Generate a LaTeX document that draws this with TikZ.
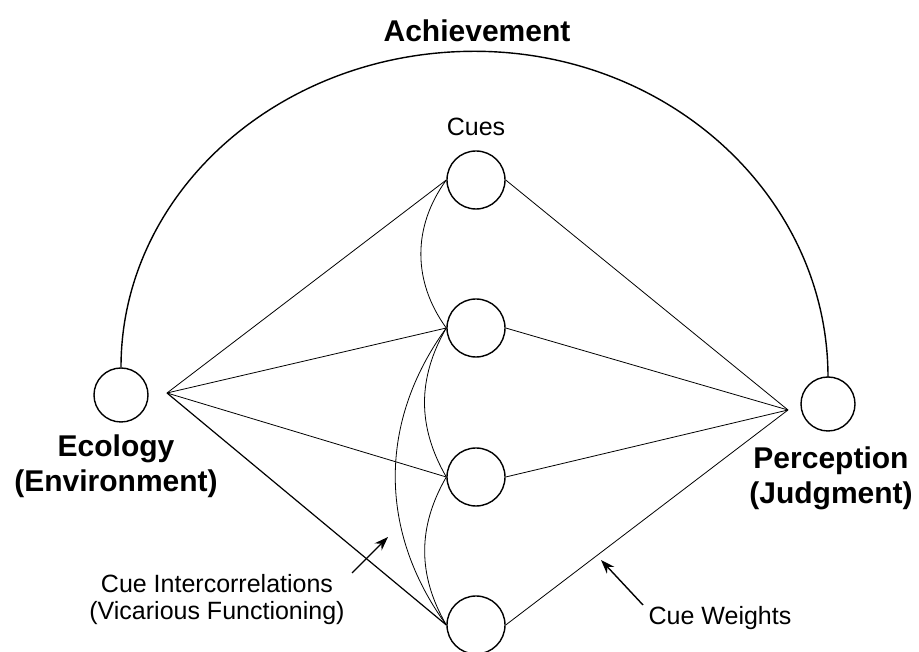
\documentclass[tikz,border=0pt]{standalone}
\usepackage{fontspec}
\setmainfont{Liberation Sans}
\usetikzlibrary{arrows.meta, positioning}

\begin{document}
\begin{tikzpicture}[x=1pt, y=1pt,
    ball/.style={circle, draw, line width=1.4pt, minimum size=#1, inner sep=0pt},
    ball/.default=58pt,
    tie/.style={line width=0.8pt},
    corr/.style={line width=0.8pt},
    bigtext/.style={font=\fontsize{30}{35}\selectfont\bfseries, align=center, inner sep=0pt},
    smalltext/.style={font=\fontsize{25}{27}\selectfont, align=center, inner sep=0pt},
    pointer/.style={-{Stealth[length=14pt, width=10pt]}, line width=1.4pt}]
    \useasboundingbox (0,0) rectangle (919,652);

    \node[ball=54pt] (eco) at (121,257) {};
    \node[ball=54pt] (perc) at (828,248) {};
    \foreach \i/\y in {1/472, 2/324, 3/175, 4/27}
        \node[ball] (cue\i) at (476,\y) {};

    \coordinate (ecotip) at (167,259);
    \coordinate (perctip) at (788,242);

    \draw[line width=1.4pt] (eco.north)
        arc[start angle=180, end angle=90, x radius=353.5, y radius=316]
        arc[start angle=90, end angle=0, x radius=353.5, y radius=326];

    \foreach \i in {1,2,3}
        \draw[tie] (ecotip) -- (cue\i.west) (cue\i.east) -- (perctip);
    \draw[tie, line width=1.2pt] (ecotip) -- (cue4.west);
    \draw[tie] (cue4.east) -- (perctip);

    \draw[corr] (cue1.west) to[bend right=36] (cue2.west);
    \draw[corr] (cue2.west) to[bend right=30] (cue3.west);
    \draw[corr] (cue3.west) to[bend right=30] (cue4.west);
    \draw[corr] (cue2.west) to[bend right=36] (cue4.west);

    \node[bigtext, anchor=base] (achieve) at (477,610) {Achievement};
    \node[smalltext, above=14pt of cue1] (cueslbl) {Cues};
    \node[bigtext, below=12pt of eco, xshift=-5pt] (ecolbl) {Ecology\\(Environment)};
    \node[bigtext, below=15pt of perc, xshift=3pt] (perclbl) {Perception\\(Judgment)};
    \node[smalltext, anchor=north] (intlbl) at (217,78) {Cue Intercorrelations\\(Vicarious Functioning)};
    \node[smalltext, anchor=base] (wtlbl) at (720,27) {Cue Weights};

    \coordinate (inttail) at (352,79);
    \coordinate (inthead) at (388,115);
    \coordinate (wttail) at (643,47);
    \coordinate (wthead) at (601,92);
    \draw[pointer] (inttail) -- (inthead);
    \draw[pointer] (wttail) -- (wthead);
\end{tikzpicture}
\end{document}
